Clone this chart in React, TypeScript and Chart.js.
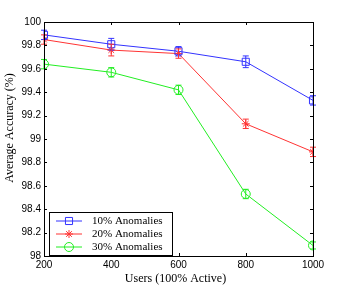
import React, { useEffect, useRef } from "react";
import { Chart, registerables } from "chart.js";
import { drawPoint } from "chart.js/helpers";

Chart.register(...registerables);

const users = [200, 400, 600, 800, 1000];
const acc10 = [99.89, 99.81, 99.75, 99.66, 99.33];
const acc20 = [99.85, 99.76, 99.73, 99.13, 98.89];
const acc30 = [99.64, 99.57, 99.42, 98.53, 98.09];
const err10 = [0.04, 0.05, 0.04, 0.05, 0.04];
const err20 = [0.04, 0.05, 0.04, 0.04, 0.04];
const err30 = [0.04, 0.04, 0.04, 0.04, 0.03];
const seriesLabels = ["10% Anomalies", "20% Anomalies", "30% Anomalies"];
const colors = ["#3333ff", "#ff3333", "#22ee22"];
const pointStyles = ["rect", "star", "circle"];
const pointRadii = [5, 4, 4.5];
const xTicks = [200, 400, 600, 800, 1000];
const yTicks = [98, 98.2, 98.4, 98.6, 98.8, 99, 99.2, 99.4, 99.6, 99.8, 100];
const xTitle = "Users (100% Active)";
const yTitle = "Average Accuracy (%)";

const errs = [err10, err20, err30];

const framePlugin = {
  id: "frame",
  afterDatasetsDraw(chart: any) {
    const { ctx, chartArea: a, scales } = chart;
    ctx.save();
    // error bars
    chart.data.datasets.forEach((ds: any, i: number) => {
      const meta = chart.getDatasetMeta(i);
      ctx.strokeStyle = colors[i];
      ctx.lineWidth = 1;
      meta.data.forEach((pt: any, j: number) => {
        const v = ds.data[j].y;
        const e = errs[i][j];
        const y1 = scales.y.getPixelForValue(v + e);
        const y2 = scales.y.getPixelForValue(v - e);
        const x = pt.x;
        ctx.beginPath();
        ctx.moveTo(x, y1);
        ctx.lineTo(x, y2);
        ctx.moveTo(x - 3, y1);
        ctx.lineTo(x + 3, y1);
        ctx.moveTo(x - 3, y2);
        ctx.lineTo(x + 3, y2);
        ctx.stroke();
      });
    });
    // frame
    ctx.strokeStyle = "#000";
    ctx.lineWidth = 1;
    ctx.strokeRect(Math.round(a.left) + 0.5, Math.round(a.top) + 0.5, Math.round(a.right - a.left), Math.round(a.bottom - a.top));
    ctx.beginPath();
    xTicks.forEach((t) => {
      const x = Math.round(scales.x.getPixelForValue(t)) + 0.5;
      ctx.moveTo(x, a.bottom);
      ctx.lineTo(x, a.bottom - 3);
      ctx.moveTo(x, a.top);
      ctx.lineTo(x, a.top + 3);
    });
    yTicks.forEach((t) => {
      const y = Math.round(scales.y.getPixelForValue(t)) + 0.5;
      ctx.moveTo(a.left, y);
      ctx.lineTo(a.left + 3, y);
      ctx.moveTo(a.right, y);
      ctx.lineTo(a.right - 3, y);
    });
    ctx.stroke();
    // axis titles
    ctx.fillStyle = "#000";
    ctx.font = "12px 'Liberation Serif', serif";
    ctx.textAlign = "center";
    ctx.textBaseline = "middle";
    ctx.fillText(xTitle, (a.left + a.right) / 2 - 3, 279);
    ctx.save();
    ctx.translate(10, 128);
    ctx.rotate(-Math.PI / 2);
    ctx.fillText(yTitle, 0, 0);
    ctx.restore();
    // legend
    const bx = a.left + 5, by = a.bottom - 44, bw = 123, bh = 43;
    ctx.fillStyle = "#fff";
    ctx.fillRect(bx, by, bw, bh);
    ctx.strokeStyle = "#000";
    ctx.strokeRect(Math.round(bx) + 0.5, Math.round(by) + 0.5, bw, bh);
    ctx.font = "11px 'Liberation Serif', serif";
    ctx.textBaseline = "middle";
    ctx.textAlign = "left";
    seriesLabels.forEach((lab, i) => {
      const y = by + 9 + i * 13;
      ctx.strokeStyle = colors[i];
      ctx.lineWidth = 1;
      ctx.beginPath();
      ctx.moveTo(bx + 7, y);
      ctx.lineTo(bx + 33, y);
      ctx.stroke();
      ctx.fillStyle = "transparent";
      drawPoint(ctx, { pointStyle: pointStyles[i], radius: pointRadii[i], borderWidth: 1, rotation: 0 } as any, bx + 20, y);
      ctx.fillStyle = "#000";
      ctx.fillText(lab, bx + 43, y + 0.5);
    });
    ctx.restore();
  },
};

export default function App() {
  const ref = useRef<HTMLCanvasElement>(null);
  useEffect(() => {
    document.body.style.margin = "0";
    const datasets = [acc10, acc20, acc30].map((arr, i) => ({
      label: seriesLabels[i],
      data: arr.map((v, j) => ({ x: users[j], y: v })),
      borderColor: colors[i],
      backgroundColor: "transparent",
      borderWidth: 1,
      pointStyle: pointStyles[i],
      pointRadius: pointRadii[i],
      pointBorderColor: colors[i],
      pointBackgroundColor: "transparent",
      pointBorderWidth: 1,
      tension: 0,
    }));
    const tickFont = { family: "'Liberation Sans', Arial, sans-serif", size: 10 };
    const chart = new Chart(ref.current!, {
      type: "line",
      data: { datasets },
      options: {
        animation: false,
        responsive: false,
        layout: { padding: { left: 0, top: 22, right: 33, bottom: 0 } },
        plugins: { legend: { display: false }, tooltip: { enabled: false } },
        scales: {
          x: {
            type: "linear",
            min: 200,
            max: 1000,
            afterBuildTicks: (s: any) => { s.ticks = xTicks.map((v) => ({ value: v })); },
            afterFit: (s: any) => { s.height = 33; },
            grid: { display: false, drawTicks: false },
            border: { display: false },
            ticks: { color: "#000", padding: 3, font: tickFont, maxRotation: 0, callback: (v: any) => String(v) },
            title: { display: false },
          },
          y: {
            type: "linear",
            min: 98,
            max: 100,
            afterBuildTicks: (s: any) => { s.ticks = yTicks.map((v) => ({ value: v })); },
            afterFit: (s: any) => { s.width = 44; },
            grid: { display: false, drawTicks: false },
            border: { display: false },
            ticks: { color: "#000", padding: 3, font: tickFont, callback: (v: any) => String(Math.round(Number(v) * 10) / 10) },
            title: { display: false },
          },
        },
      },
      plugins: [framePlugin],
    });
    return () => chart.destroy();
  }, []);
  return <canvas ref={ref} width={346} height={289} style={{ display: "block" }} />;
}
